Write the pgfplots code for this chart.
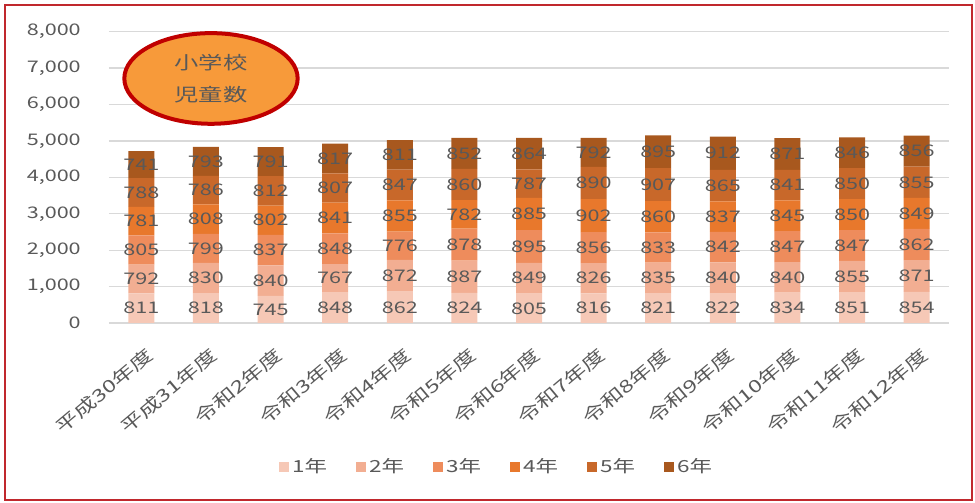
\documentclass[border=0pt]{standalone}
\usepackage{fontspec}
\usepackage{pgfplots}
\usepackage{pgfplotstable}
\pgfplotsset{compat=1.18}
\usetikzlibrary{shapes.geometric}
\setmainfont[FakeStretch=1.35]{Noto Sans CJK JP}

\definecolor{c1}{HTML}{F6C8B6}
\definecolor{c2}{HTML}{F2AE92}
\definecolor{c3}{HTML}{EE8C5C}
\definecolor{c4}{HTML}{E8782C}
\definecolor{c5}{HTML}{C8682A}
\definecolor{c6}{HTML}{A8581E}
\definecolor{txtgray}{HTML}{595959}
\definecolor{gridgray}{HTML}{D9D9D9}
\definecolor{framered}{HTML}{C0282D}
\definecolor{ellred}{HTML}{C00000}
\definecolor{ellorange}{HTML}{F79A3A}

% students per grade, one row per school year
\pgfplotstableread{
x  g1  g2  g3  g4  g5  g6
0  811 792 805 781 788 741
1  818 830 799 808 786 793
2  745 840 837 802 812 791
3  848 767 848 841 807 817
4  862 872 776 855 847 811
5  824 887 878 782 860 852
6  805 849 895 885 787 864
7  816 826 856 902 890 792
8  821 835 833 860 907 895
9  822 840 842 837 865 912
10 834 840 847 845 841 871
11 851 855 847 850 850 846
12 854 871 862 849 855 856
}\pupils

\begin{document}
\begin{tikzpicture}
\begin{axis}[
    scale only axis,
    width=630pt, height=218.5pt,
    ybar stacked,
    bar width=19.5pt,
    xmin=-0.5, xmax=12.5,
    ymin=0, ymax=8000,
    ytick={0,1000,...,8000},
    xtick=data,
    xticklabels={平成30年度,平成31年度,令和2年度,令和3年度,令和4年度,令和5年度,令和6年度,令和7年度,令和8年度,令和9年度,令和10年度,令和11年度,令和12年度},
    axis line style={draw=none},
    major tick style={draw=none},
    ymajorgrids,
    grid style={gridgray, line width=0.9pt},
    /pgf/number format/assume math mode=true,
    /pgf/number format/1000 sep={,},
    ticklabel style={font=\fontsize{12}{12}\selectfont, text=txtgray},
    yticklabel style={inner sep=0pt, anchor=east, xshift=-21pt},
    xticklabel style={font=\fontsize{13}{13}\selectfont, rotate=40,
        anchor=east, inner sep=0pt, yshift=-21pt, xshift=-9pt},
    nodes near coords,
    every node near coord/.append style={font=\fontsize{12}{12}\selectfont,
        text=txtgray, anchor=center, yshift=0pt},
    every axis plot/.append style={draw=none,
        legend image code/.code={\fill[##1] (0pt,-3.75pt) rectangle (7.5pt,3.75pt);}},
    legend columns=-1,
    legend style={at={(0.462,-0.494)}, anchor=center, draw=none,
        font=\fontsize{12.5}{12.5}\selectfont, text=txtgray,
        /tikz/every even column/.append style={column sep=20pt}},
  ]
  \addplot[fill=c1] table[x=x, y=g1] {\pupils};
  \addplot[fill=c2] table[x=x, y=g2] {\pupils};
  \addplot[fill=c3] table[x=x, y=g3] {\pupils};
  \addplot[fill=c4] table[x=x, y=g4] {\pupils};
  \addplot[fill=c5] table[x=x, y=g5] {\pupils};
  \addplot[fill=c6] table[x=x, y=g6] {\pupils};
  \legend{1年,2年,3年,4年,5年,6年}
\end{axis}
\node[ellipse, draw=ellred, line width=3pt, fill=ellorange,
      minimum width=130pt, minimum height=68pt, inner sep=0pt,
      align=center, text=txtgray, font=\fontsize{13.5}{24}\selectfont]
      at (76.5pt,183.4pt) {小学校\\児童数};
\draw[framered, line width=1.2pt] (-78pt,-132.75pt) rectangle (647.25pt,238.5pt);
\pgfresetboundingbox
\path (-81.75pt,-135pt) rectangle (649.5pt,242.25pt);
\end{tikzpicture}
\end{document}
